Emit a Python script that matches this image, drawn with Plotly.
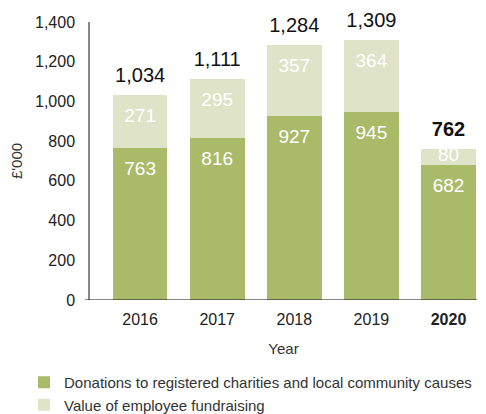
import plotly.graph_objects as go

years = ["2016", "2017", "2018", "2019", "2020"]
year_labels = ["2016", "2017", "2018", "2019", "<b>2020</b>"]
donations = [763, 816, 927, 945, 682]
fundraising = [271, 295, 357, 364, 80]
totals = [1034, 1111, 1284, 1309, 762]
total_labels = ["1,034", "1,111", "1,284", "1,309", "<b>762</b>"]

dark = "#a9ba69"
light = "#dfe3c8"
FONT = "Liberation Sans"

fig = go.Figure()
fig.add_trace(go.Bar(x=years, y=donations, name="Donations to registered charities and local community causes",
                     marker=dict(color=dark, line=dict(width=0)), width=0.71))
fig.add_trace(go.Bar(x=years, y=fundraising, name="Value of employee fundraising",
                     marker=dict(color=light, line=dict(width=0)), width=0.71))

# label positions: a little below the top of each segment
don_label_y = [d - min(112, d / 2) for d in donations]
fund_label_y = [t - min(112, f / 2) for t, f in zip(totals, fundraising)]
tot_label_y = [t + 40 for t in totals]

fig.add_trace(go.Scatter(x=years, y=don_label_y, mode="text", text=[str(v) for v in donations],
                         textfont=dict(color="white", size=19, family=FONT),
                         showlegend=False, hoverinfo="skip"))
fig.add_trace(go.Scatter(x=years, y=fund_label_y, mode="text", text=[str(v) for v in fundraising],
                         textfont=dict(color="white", size=19, family=FONT),
                         showlegend=False, hoverinfo="skip"))
fig.add_trace(go.Scatter(x=years, y=tot_label_y, mode="text", text=total_labels,
                         textposition="top center",
                         textfont=dict(color="#111111", size=20, family=FONT),
                         showlegend=False, hoverinfo="skip", cliponaxis=False))

fig.update_layout(
    barmode="stack",
    width=478, height=406,
    margin=dict(l=82, r=9, t=14, b=114),
    paper_bgcolor="white", plot_bgcolor="white",
    font=dict(family=FONT, color="#333333", size=15),
    showlegend=True,
    legend=dict(orientation="v", xref="paper", yref="container",
                x=-0.1705, xanchor="left", y=0.1182, yanchor="top",
                font=dict(size=15, color="#333333", family=FONT), traceorder="normal",
                itemwidth=30, tracegroupgap=0),
    shapes=[dict(type="line", xref="paper", yref="y", x0=-0.013, x1=1.0, y0=0, y1=0,
                 line=dict(color="#111111", width=1.2))],
)
fig.update_xaxes(type="category", tickvals=years, ticktext=year_labels,
                 range=[-0.65, 4.37], showline=False, ticks="", automargin=False,
                 ticklabelstandoff=8,
                 tickfont=dict(size=16, color="#222222"),
                 title=dict(text="Year", font=dict(size=15, color="#333333"), standoff=16))
fig.update_yaxes(range=[0, 1400], tickvals=[0, 200, 400, 600, 800, 1000, 1200, 1400],
                 tickformat=",", showgrid=False, zeroline=False, automargin=False,
                 showline=True, linecolor="#888888", linewidth=1.5,
                 ticks="", ticklabelstandoff=10,
                 tickfont=dict(size=16, color="#222222"),
                 title=dict(text="£'000", font=dict(size=15, color="#333333"), standoff=10))

fig.write_html("out.html")
